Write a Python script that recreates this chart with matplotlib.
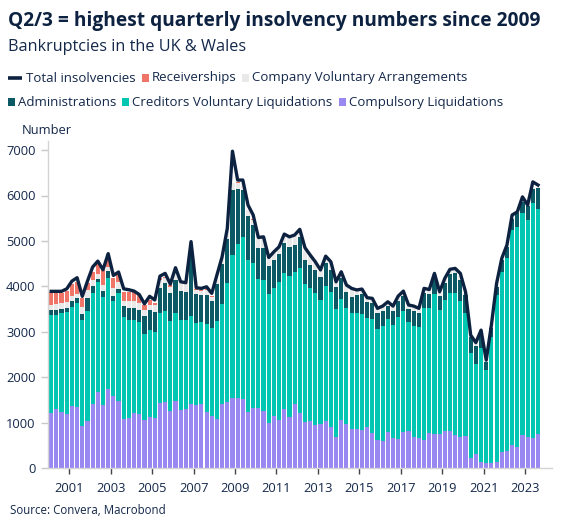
import numpy as np
import matplotlib
matplotlib.use("Agg")
import matplotlib.pyplot as plt
import matplotlib.patches as mpatch
from matplotlib.lines import Line2D

plt.rcParams['font.family'] = ['Open Sans', 'DejaVu Sans']

W, H = 566, 529
NAVY = '#0d2240'
TEXT = '#14284a'

# quarterly data, 2000 Q1 .. 2023 Q3
quarters = ["%d Q%d" % (y, q) for y in range(2000, 2024) for q in range(1, 5)][:95]

compulsory = [1210, 1290, 1225, 1180, 1355, 1345, 930, 1025, 1410, 1680,
              1380, 1745, 1585, 1465, 1070, 1100, 1205, 1195, 1065, 1115,
              1100, 1425, 1445, 1255, 1465, 1275, 1290, 1400, 1385, 1400,
              1225, 1150, 1080, 1410, 1460, 1550, 1535, 1510, 1240, 1315,
              1315, 1255, 1000, 1145, 1055, 1290, 1115, 1410, 1205, 1010,
              1025, 945, 960, 1035, 910, 690, 1055, 970, 850, 850,
              835, 895, 765, 615, 595, 800, 670, 640, 800, 820,
              675, 655, 615, 780, 750, 750, 820, 815, 720, 675,
              705, 215, 300, 140, 115, 105, 140, 350, 380, 500,
              470, 725, 690, 655, 740]
creditors_vol = [2165, 2085, 2185, 2245, 2190, 2280, 2325, 2440, 2435, 2415,
                 2375, 2445, 2085, 2395, 2255, 2150, 2045, 2030, 1875, 1915,
                 1895, 1980, 2010, 1990, 1940, 1980, 1965, 1955, 1815, 1815,
                 1945, 1930, 2150, 2200, 2620, 3140, 3395, 3580, 3340, 3205,
                 2845, 2885, 2830, 2810, 3045, 3010, 3110, 2910, 3190, 3040,
                 2930, 2900, 2740, 2970, 2970, 2810, 2665, 2545, 2555, 2570,
                 2565, 2415, 2510, 2450, 2530, 2470, 2475, 2685, 2655, 2390,
                 2450, 2460, 2900, 2750, 3085, 2730, 2885, 3040, 3125, 3000,
                 2715, 2325, 1990, 2495, 2040, 2785, 3670, 3970, 4235, 4740,
                 4840, 4880, 4770, 5170, 4960]
administrations = [95, 95, 95, 105, 125, 120, 140, 280, 155, 75,
                   140, 145, 125, 90, 235, 280, 280, 260, 405, 450,
                   450, 565, 610, 615, 735, 640, 625, 1560, 630, 595,
                   640, 600, 815, 880, 970, 1430, 1205, 1025, 970, 830,
                   675, 695, 615, 625, 610, 660, 645, 600, 695, 530,
                   515, 515, 500, 500, 490, 475, 455, 365, 365, 400,
                   440, 340, 360, 350, 340, 290, 320, 360, 340, 280,
                   340, 300, 340, 300, 350, 300, 370, 420, 450, 470,
                   400, 345, 395, 380, 185, 200, 185, 270, 245, 235,
                   295, 260, 315, 310, 455]
company_vol = [125, 145, 125, 125, 110, 95, 145, 170, 135, 95,
               145, 90, 170, 140, 110, 145, 145, 155, 140, 120,
               145, 170, 110, 130, 205, 170, 170, 60, 100, 95,
               120, 90, 95, 125, 190, 145, 145, 150, 130, 120,
               200, 220, 170, 160, 140, 170, 200, 180, 140, 230,
               190, 160, 140, 140, 150, 110, 130, 130, 160, 80,
               80, 80, 80, 80, 80, 80, 80, 80, 80, 80,
               80, 80, 80, 80, 80, 80, 80, 80, 80, 90,
               40, 20, 40, 20, 20, 30, 30, 20, 30, 40,
               30, 50, 20, 40, 30]
receiverships = [280, 235, 220, 240, 280, 255, 205, 160, 180, 235,
                 310, 290, 225, 175, 205, 210, 200, 160, 95, 90,
                 50, 35, 35, 35, 25, 15, 10, 5, 15, 10,
                 15, 20, 10, 10, 10, 15, 10, 5, 5, 5] + [0] * 55
total = [3890, 3890, 3890, 3945, 4115, 4190, 3780, 4115, 4425, 4555,
         4365, 4720, 4240, 4315, 3945, 3925, 3895, 3820, 3615, 3780,
         3700, 4225, 4285, 4050, 4410, 4100, 4080, 4985, 3970, 3955,
         3990, 3845, 4250, 4650, 5275, 6975, 6340, 6340, 5790, 5570,
         5075, 5090, 4635, 4760, 4870, 5150, 5090, 5130, 5255, 4850,
         4690, 4540, 4360, 4665, 4540, 4100, 4320, 4030, 3955, 3920,
         3940, 3750, 3735, 3515, 3565, 3660, 3565, 3785, 3895, 3590,
         3565, 3515, 3955, 3930, 4285, 3880, 4175, 4375, 4395, 4285,
         3880, 2925, 2760, 3035, 2375, 3150, 4065, 4615, 4910, 5570,
         5640, 5970, 5790, 6300, 6230]

tick_years = list(range(2001, 2024, 2))
y_ticks = [0, 1000, 2000, 3000, 4000, 5000, 6000, 7000]

layers = [
    ("Compulsory Liquidations", compulsory, '#9a88f2'),
    ("Creditors Voluntary Liquidations", creditors_vol, '#00c6b2'),
    ("Administrations", administrations, '#0a5964'),
    ("Company Voluntary Arrangements", company_vol, '#e9e9e9'),
    ("Receiverships", receiverships, '#ee7568'),
]
colors = {name: c for name, _, c in layers}

fig = plt.figure(figsize=(W / 100, H / 100), dpi=100)
ax = fig.add_axes([48 / W, 1 - 468 / H, 504 / W, (468 - 141) / H])

x = np.arange(len(quarters))
bottom = np.zeros(len(x))
for name, vals, color in layers:
    vals = np.array(vals, dtype=float)
    ax.bar(x, vals, width=0.8, bottom=bottom, color=color, linewidth=0)
    bottom += vals
ax.plot(x, total, color=NAVY, lw=2.4, solid_joinstyle='round', zorder=5)

ax.set_xlim(-0.62, 96.7)
ax.set_ylim(0, 7200)
ax.set_yticks(y_ticks)
ax.set_yticklabels([str(v) for v in y_ticks])
ax.set_xticks([(y - 2000) * 4 - 0.5 for y in tick_years])
ax.set_xticklabels([str(y) for y in tick_years])

for s in ['top', 'right']:
    ax.spines[s].set_visible(False)
for s in ['left', 'bottom']:
    ax.spines[s].set_color('#d4d4d4')
    ax.spines[s].set_linewidth(1.0)
ax.tick_params(axis='y', length=5, width=1, color='#c8c8c8', labelsize=9.3,
               labelcolor=TEXT, pad=4)
ax.tick_params(axis='x', length=4, width=1, color='#444444', labelsize=9.3,
               labelcolor=TEXT, pad=6)


def fx(px):
    return px / W


def fy(py):
    return 1 - py / H


fig.text(fx(8), fy(21), "Q2/3 = highest quarterly insolvency numbers since 2009",
         fontsize=13.8, weight='bold', color=NAVY, va='center')
fig.text(fx(8), fy(47), "Bankruptcies in the UK & Wales", fontsize=11.7,
         color=TEXT, va='center')
fig.text(fx(22), fy(130), "Number", fontsize=9.3, color=TEXT, va='center')
fig.text(fx(10), fy(511), "Source: Convera, Macrobond", fontsize=8.3,
         color=TEXT, va='center')

renderer = fig.canvas.get_renderer()


def legend_row(items, y, xpos=8, fs=9.5):
    for label, color, kind in items:
        if kind == 'line':
            fig.add_artist(Line2D([fx(xpos), fx(xpos + 14)], [fy(y), fy(y)],
                                  color=color, lw=2.6, solid_capstyle='butt'))
            xpos += 18
        else:
            fig.add_artist(mpatch.Rectangle((fx(xpos), fy(y + 3.5)), 7 / W, 7 / H,
                                            color=color, lw=0))
            xpos += 10
        t = fig.text(fx(xpos), fy(y), label, fontsize=fs, color=TEXT,
                     va='center')
        xpos = t.get_window_extent(renderer).x1 + 6


legend_row([("Total insolvencies", NAVY, 'line'),
            ("Receiverships", colors["Receiverships"], 'box'),
            ("Company Voluntary Arrangements", colors["Company Voluntary Arrangements"], 'box')], 78)
legend_row([("Administrations", colors["Administrations"], 'box'),
            ("Creditors Voluntary Liquidations", colors["Creditors Voluntary Liquidations"], 'box'),
            ("Compulsory Liquidations", colors["Compulsory Liquidations"], 'box')], 102)

fig.savefig("out.png", dpi=100)
